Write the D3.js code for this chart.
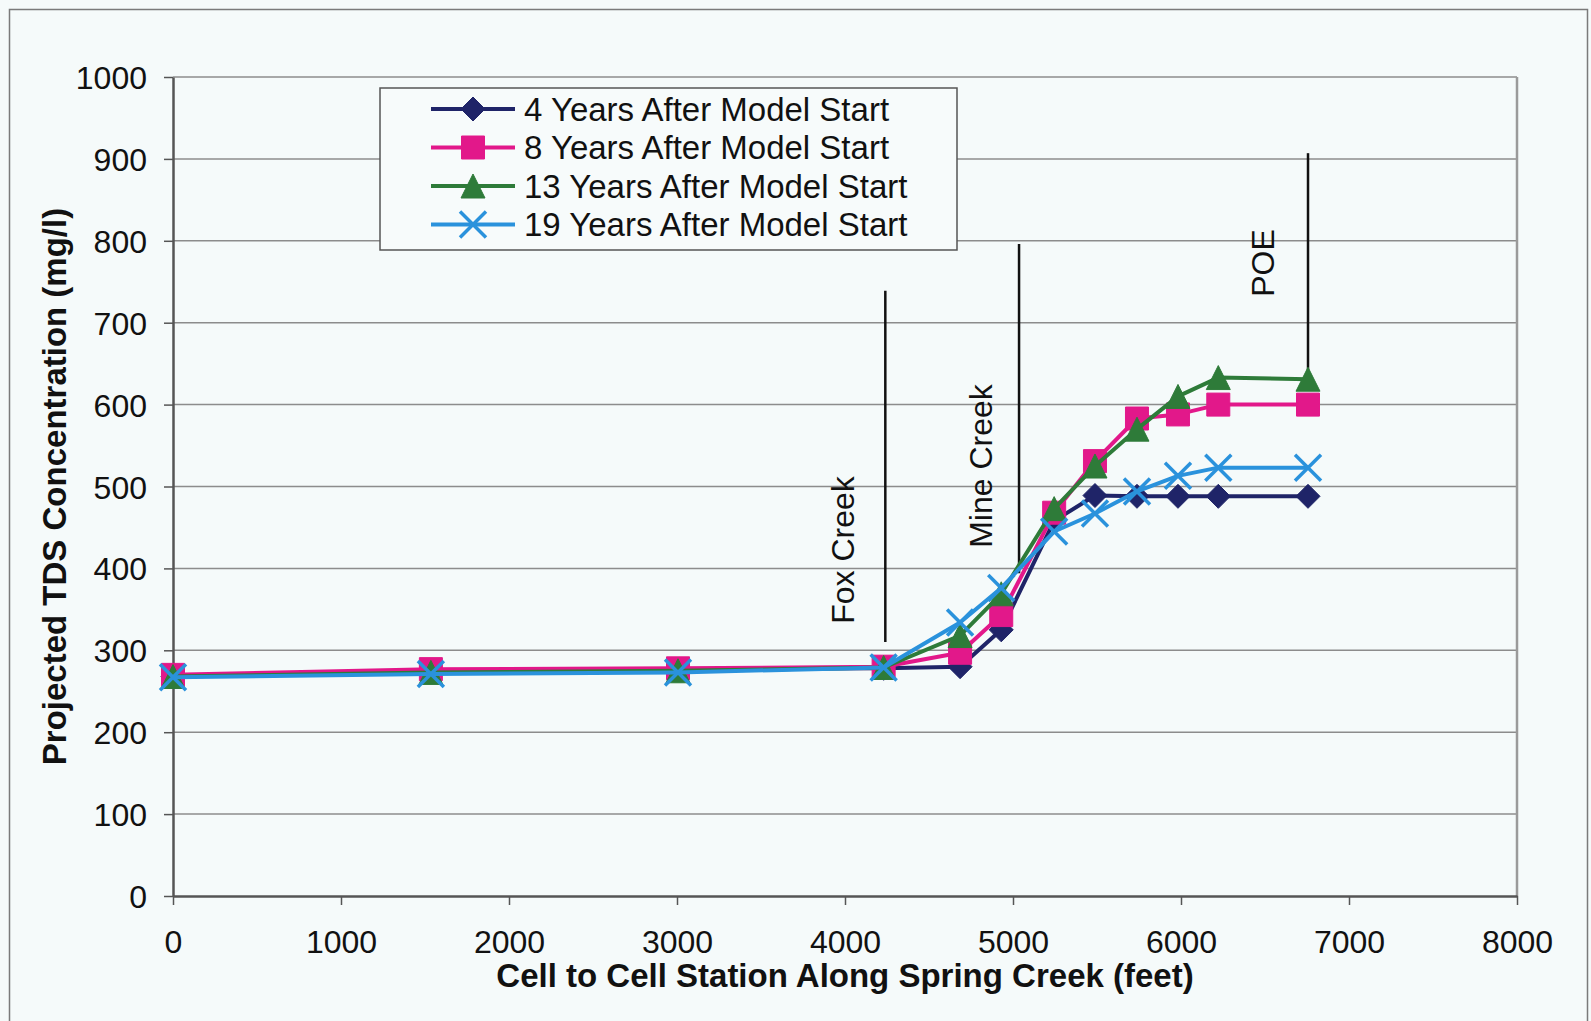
<!DOCTYPE html>
<html>
<head>
<meta charset="utf-8">
<script src="https://cdn.jsdelivr.net/npm/d3@7"></script>
<style>
  html, body { margin: 0; padding: 0; background: #f5fafa; }
  svg { display: block; }
  text { font-family: "Liberation Sans", Arial, sans-serif; fill: #111; }
</style>
</head>
<body>
<svg id="chart" width="1591" height="1021"></svg>
<script>
// Stations along Spring Creek (feet)
const stations = [0, 1535, 3006, 4230, 4685, 4930, 5245, 5488, 5738, 5982, 6222, 6756];

// Projected TDS concentration (mg/l) at each station
const tds4yr  = [268, 275, 277, 278, 280, 325, 458, 489, 488, 488, 488, 488];
const tds8yr  = [270, 277, 278, 280, 297, 343, 468, 531, 583, 588, 600, 600];
const tds13yr = [268, 273, 275, 279, 318, 369, 473, 525, 570, 610, 633, 631];
const tds19yr = [267, 271, 273, 279, 334, 376, 445, 467, 494, 513, 523, 523];

const seriesNames = [
  "4 Years After Model Start",
  "8 Years After Model Start",
  "13 Years After Model Start",
  "19 Years After Model Start"
];

const xTicks = [0, 1000, 2000, 3000, 4000, 5000, 6000, 7000, 8000];
const yTicks = [0, 100, 200, 300, 400, 500, 600, 700, 800, 900, 1000];

// Tributary / point-of-entry markers: station and vertical extent (mg/l)
const markerNames = ["Fox Creek", "Mine Creek", "POE"];
const markerStations = [4240, 5036, 6756];
const markerTop = [739, 796, 907];
const markerBottom = [310, 394, 631];

const svg = d3.select("#chart");

const x = d3.scaleLinear().domain([0, 8000]).range([173, 1517]);
const y = d3.scaleLinear().domain([0, 1000]).range([896, 77]);

// outer chart border
svg.append("rect")
  .attr("x", 9.5).attr("y", 9.5).attr("width", 1578).attr("height", 1040)
  .attr("fill", "none").attr("stroke", "#7a7a7a").attr("stroke-width", 1.5);

// horizontal gridlines
svg.append("g").selectAll("line").data(yTicks.filter(d => d > 0)).join("line")
  .attr("x1", x(0)).attr("x2", x(8000))
  .attr("y1", d => y(d)).attr("y2", d => y(d))
  .attr("stroke", "#8c8c8c").attr("stroke-width", 1.5);

// right frame of the plot area
svg.append("line")
  .attr("x1", x(8000)).attr("x2", x(8000)).attr("y1", y(1000)).attr("y2", y(0))
  .attr("stroke", "#9a9a9a").attr("stroke-width", 2.5);

// axes
const fmt = d3.format("d");
const yAxis = svg.append("g")
  .attr("transform", `translate(${x(0)},0)`)
  .call(d3.axisLeft(y).tickValues(yTicks).tickFormat(fmt).tickSize(9).tickSizeOuter(0).tickPadding(17));
const xAxis = svg.append("g")
  .attr("transform", `translate(0,${y(0)})`)
  .call(d3.axisBottom(x).tickValues(xTicks).tickFormat(fmt).tickSize(9).tickSizeOuter(0).tickPadding(25));

[yAxis, xAxis].forEach(g => {
  g.select(".domain").attr("stroke", "#555").attr("stroke-width", 2.5);
  g.selectAll(".tick line").attr("stroke", "#555").attr("stroke-width", 1.5);
  g.selectAll(".tick text")
    .attr("font-size", 32)
    .style("font-family", "'Liberation Sans', Arial, sans-serif")
    .attr("fill", "#111");
});
yAxis.selectAll(".tick text").attr("dy", "0.36em");
xAxis.selectAll(".tick text").attr("dy", "0.71em");

// axis titles
svg.append("text")
  .attr("x", (x(0) + x(8000)) / 2).attr("y", 987)
  .attr("text-anchor", "middle").attr("font-size", 33).attr("font-weight", "bold")
  .text("Cell to Cell Station Along Spring Creek (feet)");

svg.append("text")
  .attr("transform", `translate(66,${(y(0) + y(1000)) / 2}) rotate(-90)`)
  .attr("text-anchor", "middle").attr("font-size", 33).attr("font-weight", "bold")
  .text("Projected TDS Concentration (mg/l)");

// vertical reference lines with labels
markerNames.forEach((name, i) => {
  svg.append("line")
    .attr("x1", x(markerStations[i])).attr("x2", x(markerStations[i]))
    .attr("y1", y(markerTop[i])).attr("y2", y(markerBottom[i]))
    .attr("stroke", "#111").attr("stroke-width", 2.5);
});
const labelCenters = [[854, 550], [992, 466], [1274, 263]];
markerNames.forEach((name, i) => {
  svg.append("text")
    .attr("transform", `translate(${labelCenters[i][0]},${labelCenters[i][1]}) rotate(-90)`)
    .attr("text-anchor", "middle").attr("font-size", 32)
    .text(name);
});

// marker shapes
function diamond(r) { return `M0,${-r}L${r},0L0,${r}L${-r},0Z`; }
function square(r) { return `M${-r},${-r}H${r}V${r}H${-r}Z`; }
function triangle(r) { return `M0,${-r}L${r},${r}L${-r},${r}Z`; }
function cross(r) { return `M${-r},${-r}L${r},${r}M${r},${-r}L${-r},${r}`; }

const series = [
  { name: seriesNames[0], values: tds4yr,  color: "#1f2468", shape: diamond(12), fill: true },
  { name: seriesNames[1], values: tds8yr,  color: "#e2188a", shape: square(11.5), fill: true },
  { name: seriesNames[2], values: tds13yr, color: "#2e7b39", shape: triangle(12), fill: true },
  { name: seriesNames[3], values: tds19yr, color: "#2a92dc", shape: cross(13), fill: false }
];

const line = d3.line().x(d => x(d[0])).y(d => y(d[1]));

function drawMarker(g, shape, s, cx, cy) {
  g.append("path")
    .attr("transform", `translate(${cx},${cy})`)
    .attr("d", shape)
    .attr("fill", s.fill ? s.color : "none")
    .attr("stroke", s.color)
    .attr("stroke-width", s.fill ? 1 : 3.5);
}

series.forEach(s => {
  const pts = stations.map((st, i) => [st, s.values[i]]);
  const g = svg.append("g");
  g.append("path").attr("d", line(pts))
    .attr("fill", "none").attr("stroke", s.color).attr("stroke-width", 4)
    .attr("stroke-linejoin", "round");
  pts.forEach(p => drawMarker(g, s.shape, s, x(p[0]), y(p[1])));
});

// legend
const legend = svg.append("g");
legend.append("rect")
  .attr("x", 380).attr("y", 88).attr("width", 577).attr("height", 162)
  .attr("fill", "#f7fbfb").attr("stroke", "#555").attr("stroke-width", 1.5);
series.forEach((s, i) => {
  const cy = 109 + i * 38.5;
  legend.append("line")
    .attr("x1", 431).attr("x2", 515).attr("y1", cy).attr("y2", cy)
    .attr("stroke", s.color).attr("stroke-width", 4);
  drawMarker(legend, s.shape, s, 473, cy);
  legend.append("text")
    .attr("x", 524).attr("y", cy).attr("dy", "0.36em")
    .attr("font-size", 33)
    .text(s.name);
});
</script>
</body>
</html>
